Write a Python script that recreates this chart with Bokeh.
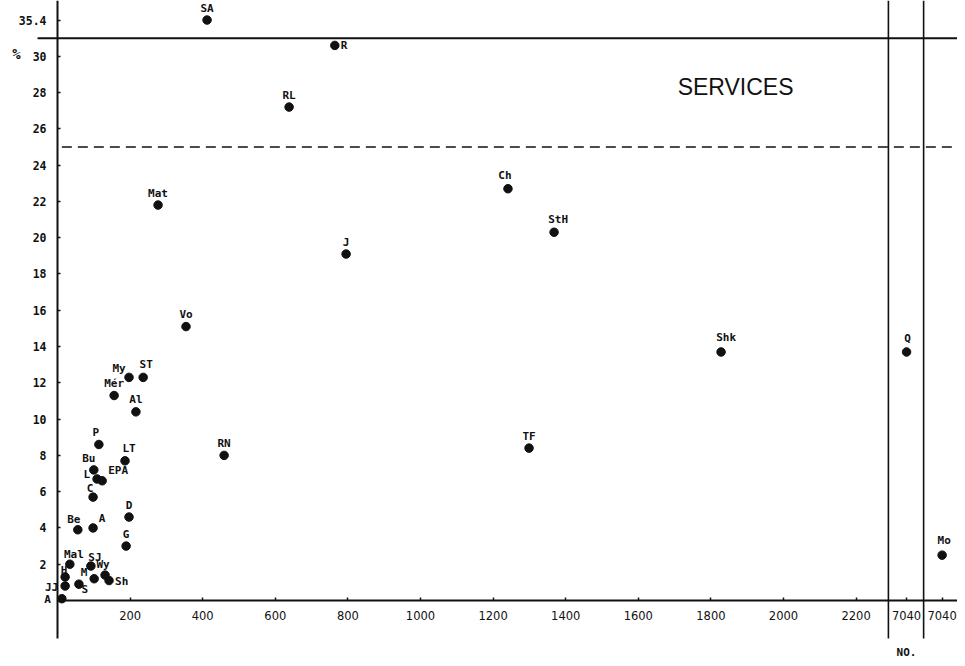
from bokeh.plotting import figure
from bokeh.models import FixedTicker, Range1d, ColumnDataSource
from bokeh.core.properties import value
from bokeh.embed import file_html
from bokeh.resources import INLINE

# ---------------- data ----------------
names = ["SA", "R", "RL", "Mat", "J", "Ch", "StH", "Vo", "Shk", "My", "ST", "Mér", "Al",
         "P", "LT", "RN", "TF", "Bu", "L", "EPA", "C", "Be", "A", "D", "G", "Mal", "SJ",
         "H", "M", "Wy", "Sh", "JJ", "S", "A"]
number = [412, 764, 638, 277, 795, 1241, 1368, 354, 1828, 197, 236, 156, 216,
          114, 186, 459, 1299, 100, 109, 123, 98, 56, 98, 197, 189, 34, 92,
          21, 101, 131, 142, 21, 59, 12]
percent = [35.4, 30.6, 27.2, 21.8, 19.1, 22.7, 20.3, 15.1, 13.7, 12.3, 12.3, 11.3, 10.4,
           8.6, 7.7, 8.0, 8.4, 7.2, 6.7, 6.6, 5.7, 3.9, 4.0, 4.6, 3.0, 2.0, 1.9,
           1.3, 1.2, 1.4, 1.1, 0.8, 0.9, 0.1]

off_names = ["Q", "Mo"]
off_number = [7040, 7040]
off_percent = [13.7, 2.5]

x_ticks = [200, 400, 600, 800, 1000, 1200, 1400, 1600, 1800, 2000, 2200]
y_ticks = [2, 4, 6, 8, 10, 12, 14, 16, 18, 20, 22, 24, 26, 28, 30]
y_top_tick = 35.4
reference_level = 25
break_level = 31

# ---------------- layout constants ----------------
W, H = 957, 658
PX_X, PX_Y = 0.363, 18.14          # pixels per data unit
X0_PX, Y0_PX = 57, 600             # pixel position of the origin
x_start = -X0_PX / PX_X
x_end = x_start + W / PX_X
y_end = Y0_PX / PX_Y
y_start = y_end - H / PX_Y

PANEL_X = [2339, 2437]             # display centres of the two broken-axis panels
BREAK_X = [2289, 2386]             # vertical break lines
Y_SQUEEZE = 0.227                  # compression above the y break


def ydisp(v):
    return v if v <= break_level else break_level + (v - break_level) * Y_SQUEEZE


# label offsets (dx, dy in px, align), default above the dot
default_off = (0, -12, "center")
label_off = {
    1: (6, 0, "left"), 5: (-3, -13, "center"), 6: (4, -13, "center"), 8: (5, -14, "center"),
    9: (-10, -9, "center"), 10: (3, -13, "center"), 13: (-3, -12, "center"),
    14: (4, -12, "center"), 17: (-5, -11, "center"), 18: (-7, -4, "right"),
    19: (16, -10, "center"), 20: (-3, -9, "center"), 21: (-4, -10, "center"),
    22: (9, -9, "center"), 25: (4, -10, "center"), 26: (4, -9, "center"),
    27: (-1, -6, "center"), 28: (-10, -6, "center"), 29: (-2, -11, "center"),
    30: (6, 1, "left"), 31: (-7, 2, "right"), 32: (6, 5, "center"), 33: (-11, 1, "right"),
}
off_label_off = [(1, -13), (2, -15)]

ink = "#111111"
mono = value("DejaVu Sans Mono")

p = figure(width=W, height=H, output_backend="svg", toolbar_location=None,
           x_range=Range1d(x_start, x_end), y_range=Range1d(y_start, y_end),
           min_border=0, min_border_left=0, min_border_right=0,
           min_border_top=0, min_border_bottom=0)
p.outline_line_color = None
p.xgrid.visible = False
p.ygrid.visible = False

# axes fixed through the origin
xa = p.xaxis[0]
ya = p.yaxis[0]
xa.fixed_location = 0
ya.fixed_location = 0
xa.bounds = (0, x_end)
ya.bounds = (-2.1, y_end)

xa.ticker = FixedTicker(ticks=x_ticks + PANEL_X, minor_ticks=[])
xa.major_label_overrides = {PANEL_X[0]: str(off_number[0]), PANEL_X[1]: str(off_number[1])}
top_disp = ydisp(y_top_tick)
ya.ticker = FixedTicker(ticks=y_ticks + [top_disp], minor_ticks=[])
ya.major_label_overrides = {top_disp: str(y_top_tick)}

for ax in (xa, ya):
    ax.axis_line_color = ink
    ax.axis_line_width = 2
    ax.major_tick_line_color = ink
    ax.major_tick_line_width = 1.5
    ax.major_tick_in = 3
    ax.major_tick_out = 0
    ax.minor_tick_line_color = None
    ax.major_label_text_color = ink

xa.major_label_text_font = "DejaVu Sans"
xa.major_label_text_font_size = "11.5px"
xa.major_label_standoff = 10
ya.major_label_text_font = "DejaVu Sans Mono"
ya.major_label_text_font_style = "bold"
ya.major_label_text_font_size = "11.5px"
ya.major_label_standoff = 11

# reference lines
p.segment(x0=[-55], y0=[break_level], x1=[x_end], y1=[break_level],
          line_color=ink, line_width=2)
p.segment(x0=[12], y0=[reference_level], x1=[x_end], y1=[reference_level],
          line_color=ink, line_width=1.5, line_dash="10 6")
p.segment(x0=BREAK_X, y0=[-2.1, -2.1], x1=BREAK_X, y1=[y_end, y_end],
          line_color=ink, line_width=1.6)

# points
xs = list(number)
ys = [ydisp(v) for v in percent]
dx = [label_off.get(i, default_off)[0] for i in range(len(names))]
dy = [label_off.get(i, default_off)[1] for i in range(len(names))]
al = [label_off.get(i, default_off)[2] for i in range(len(names))]
src = ColumnDataSource(dict(x=xs, y=ys, name=names, dx=dx, dy=dy, al=al))
p.scatter("x", "y", source=src, size=8.5, color=ink)
p.text("x", "y", text="name", source=src, x_offset="dx", y_offset="dy", text_align="al",
       text_baseline="middle", text_font=mono, text_font_style="bold",
       text_font_size="11px", text_color=ink)

osrc = ColumnDataSource(dict(x=PANEL_X, y=[ydisp(v) for v in off_percent], name=off_names,
                             dx=[o[0] for o in off_label_off], dy=[o[1] for o in off_label_off]))
p.scatter("x", "y", source=osrc, size=8.5, color=ink)
p.text("x", "y", text="name", source=osrc, x_offset="dx", y_offset="dy",
       text_align="center", text_baseline="middle", text_font=mono,
       text_font_style="bold", text_font_size="11px", text_color=ink)

# annotations
p.text(x=[1868], y=[28.33], text=["SERVICES"], text_align="center", text_baseline="middle",
       text_font=value("Liberation Sans"), text_font_size="23px", text_color=ink)
p.text(x=[-113], y=[30.1], text=["%"], text_align="center", text_baseline="middle",
       text_font=mono, text_font_style="bold", text_font_size="14px", text_color=ink)
p.text(x=[PANEL_X[0]], y=[-2.87], text=["NO."], text_align="center", text_baseline="middle",
       text_font=mono, text_font_style="bold", text_font_size="11px", text_color=ink)

open("out.html", "w").write(file_html(p, INLINE))
